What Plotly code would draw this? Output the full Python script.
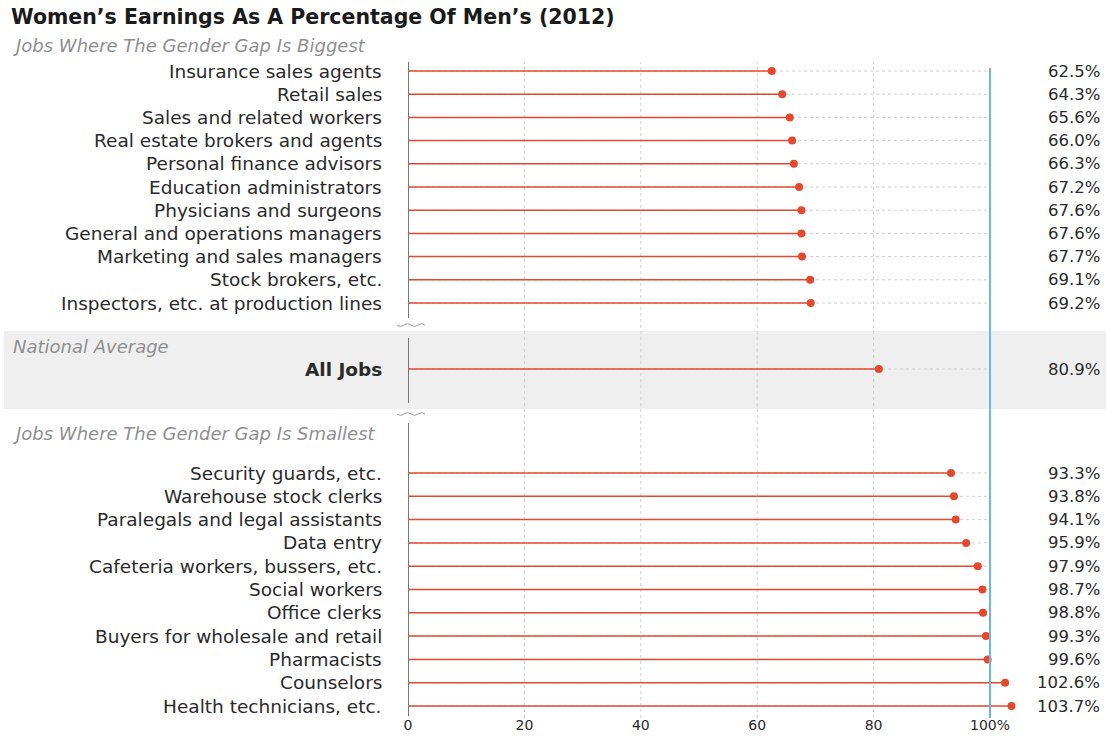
import plotly.graph_objects as go

# ---- data ----
top_jobs = ["Insurance sales agents", "Retail sales", "Sales and related workers",
            "Real estate brokers and agents", "Personal finance advisors",
            "Education administrators", "Physicians and surgeons",
            "General and operations managers", "Marketing and sales managers",
            "Stock brokers, etc.", "Inspectors, etc. at production lines"]
top_vals = [62.5, 64.3, 65.6, 66.0, 66.3, 67.2, 67.6, 67.6, 67.7, 69.1, 69.2]

avg_job = "All Jobs"
avg_val = 80.9

bottom_jobs = ["Security guards, etc.", "Warehouse stock clerks",
               "Paralegals and legal assistants", "Data entry",
               "Cafeteria workers, bussers, etc.", "Social workers", "Office clerks",
               "Buyers for wholesale and retail", "Pharmacists", "Counselors",
               "Health technicians, etc."]
bottom_vals = [93.3, 93.8, 94.1, 95.9, 97.9, 98.7, 98.8, 99.3, 99.6, 102.6, 103.7]

tick_vals = [0, 20, 40, 60, 80, 100]
tick_text = ["0", "20", "40", "60", "80", "100%"]

# ---- layout helpers (pixel geometry) ----
W, H = 1106, 736
L, R, T, B = 408, 86, 60, 22
PW, PH = W - L - R, H - T - B
PX_PER_PCT = 5.82
ROW0, ROW_H = 71, 23.2

def fx(px):
    return (px - L) / PW

def fy(py):
    return 1 - (py - T) / PH

def pos(py):
    return (py - ROW0) / ROW_H

RED = "#e5492d"
GRID = "#cfcfcf"
FONT = "DejaVu Sans"
TXT = "#2a2a2a"

top_y = [pos(ROW0 + ROW_H * i) for i in range(len(top_jobs))]
avg_y = pos(369)
bot_y = [pos(473 + 23.3 * i) for i in range(len(bottom_jobs))]

all_y = top_y + [avg_y] + bot_y
all_v = top_vals + [avg_val] + bottom_vals
all_lab = top_jobs + [avg_job] + bottom_jobs

fig = go.Figure()

gx, gy = [], []
for y in all_y:
    gx += [0, 100, None]
    gy += [y, y, None]
fig.add_trace(go.Scatter(x=gx, y=gy, mode="lines", hoverinfo="skip",
                         line=dict(color=GRID, width=1, dash="dot")))

lx, ly = [], []
for v, y in zip(all_v, all_y):
    lx += [0, v, None]
    ly += [y, y, None]
fig.add_trace(go.Scatter(x=lx, y=ly, mode="lines", hoverinfo="skip",
                         line=dict(color=RED, width=1.5)))

fig.add_trace(go.Scatter(x=all_v, y=all_y, mode="markers",
                         marker=dict(color=RED, size=8, line=dict(width=0))))

shapes = []
# national average band
shapes.append(dict(type="rect", xref="paper", yref="paper", layer="below",
                   x0=fx(4), x1=fx(1106), y0=fy(409), y1=fy(331),
                   fillcolor="#efefef", line=dict(width=0)))
# vertical dotted grid
for v in tick_vals[1:-1]:
    shapes.append(dict(type="line", xref="x", yref="paper", layer="below",
                       x0=v, x1=v, y0=fy(718), y1=fy(62),
                       line=dict(color=GRID, width=1, dash="dot")))
# 100% line
shapes.append(dict(type="line", xref="x", yref="paper", x0=100, x1=100,
                   y0=fy(718), y1=fy(68), line=dict(color="#6cb6e2", width=2)))
# broken zero axis
for a, b in [(62, 318), (338, 403), (423, 716)]:
    shapes.append(dict(type="line", xref="x", yref="paper", x0=0, x1=0,
                       y0=fy(b), y1=fy(a), line=dict(color="#777777", width=2)))
# break squiggles
for py in [325, 414]:
    x0 = 397
    d = f"M {fx(x0)},{fy(py)} Q {fx(x0 + 3.5)},{fy(py + 3)} {fx(x0 + 7)},{fy(py)}"
    for k in range(1, 4):
        d += f" T {fx(x0 + 7 + 7 * k)},{fy(py)}"
    shapes.append(dict(type="path", xref="paper", yref="paper", path=d,
                       line=dict(color="#999999", width=1)))

ann = []
ann.append(dict(text="<b>Women’s Earnings As A Percentage Of Men’s (2012)</b>",
                xref="paper", yref="paper", x=fx(9), y=fy(17), xanchor="left",
                yanchor="middle", showarrow=False,
                font=dict(family=FONT, size=20.5, color="#1a1a1a")))
for txt, py in [("Jobs Where The Gender Gap Is Biggest", 46),
                ("National Average", 346),
                ("Jobs Where The Gender Gap Is Smallest", 433)]:
    ann.append(dict(text=txt, xref="paper", yref="paper", x=fx(11), y=fy(py),
                    xanchor="left", yanchor="middle", showarrow=False,
                    font=dict(family=FONT, size=18, color="#8f8f8f",
                              style="italic", weight=300)))
for lab, v, y in zip(all_lab, all_v, all_y):
    t = f"<b>{lab}</b>" if lab == avg_job else lab
    ann.append(dict(text=t, xref="paper", yref="y", x=fx(384), y=y,
                    xanchor="right", yanchor="middle", showarrow=False,
                    font=dict(family=FONT, size=18.5, color=TXT)))
    ann.append(dict(text=f"{v:.1f}%", xref="paper", yref="y", x=fx(1102), y=y,
                    xanchor="right", yanchor="middle", showarrow=False,
                    font=dict(family=FONT, size=16.5, color=TXT)))

fig.update_layout(
    width=W, height=H,
    margin=dict(l=L, r=R, t=T, b=B),
    paper_bgcolor="white", plot_bgcolor="rgba(0,0,0,0)",
    showlegend=False,
    shapes=shapes, annotations=ann,
    xaxis=dict(range=[0, PW / PX_PER_PCT], tickvals=tick_vals, ticktext=tick_text,
               showgrid=False, zeroline=False, showline=False, ticks="",
               automargin=False, ticklabelstandoff=1,
               tickfont=dict(family=FONT, size=14, color=TXT), fixedrange=True),
    yaxis=dict(range=[pos(T + PH), pos(T)], showgrid=False, zeroline=False,
               showline=False, showticklabels=False, ticks="", automargin=False,
               fixedrange=True),
)

# the page's default body margin would push the chart 8px off; remove it
fig.write_html("out.html", config={"displayModeBar": False},
               post_script="document.body.style.margin='0';document.body.style.overflow='hidden';")
